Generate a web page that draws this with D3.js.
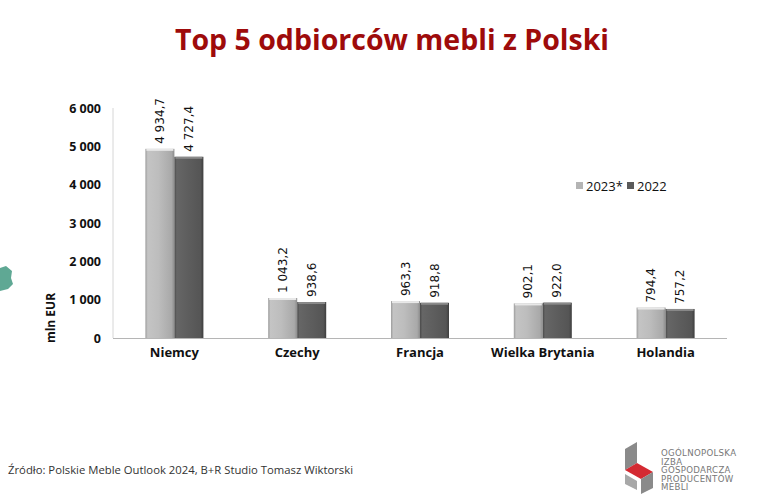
<!DOCTYPE html>
<html><head><meta charset="utf-8">
<script src="https://cdn.jsdelivr.net/npm/d3@7"></script>
<style>body{margin:0;background:#fff;}svg{display:block;}</style>
</head><body>
<svg id="c" width="760" height="504"></svg>
<script>
const categories = ["Niemcy","Czechy","Francja","Wielka Brytania","Holandia"];
const seriesNames = ["2023*","2022"];
const values2023 = [4934.7,1043.2,963.3,902.1,794.4];
const values2022 = [4727.4,938.6,918.8,922.0,757.2];
const labels2023 = ["4 934,7","1 043,2","963,3","902,1","794,4"];
const labels2022 = ["4 727,4","938,6","918,8","922,0","757,2"];
const yTicks = [0,1000,2000,3000,4000,5000,6000];
const yTickLabels = ["0","1 000","2 000","3 000","4 000","5 000","6 000"];

const svg = d3.select("#c");
const defs = svg.append("defs");
function grad(id, stops){
  const g = defs.append("linearGradient").attr("id",id).attr("x1","0").attr("x2","1").attr("y1","0").attr("y2","0");
  stops.forEach(s=>g.append("stop").attr("offset",s[0]).attr("stop-color",s[1]));
}
grad("g23",[[0,"#9c9c9c"],[0.08,"#c4c4c4"],[0.45,"#bdbdbd"],[0.9,"#a9a9a9"],[1,"#8c8c8c"]]);
grad("g22",[[0,"#4a4a4a"],[0.08,"#666"],[0.45,"#5e5e5e"],[0.9,"#555"],[1,"#3e3e3e"]]);

// title
svg.append("text").attr("x",392).attr("y",50).attr("text-anchor","middle")
  .attr("font-family","Open Sans").attr("font-weight","bold").attr("font-size",28.5)
  .attr("fill","#9e0b0b").text("Top 5 odbiorców mebli z Polski");

const x0 = d3.scaleBand().domain(categories).range([113,727]);
const y = d3.scaleLinear().domain([0,6000]).range([338,108]);
const x1 = d3.scaleBand().domain(seriesNames).range([0,58]);

// axis line
svg.append("line").attr("x1",113).attr("x2",113).attr("y1",y(6000)).attr("y2",y(0)).attr("stroke","#d6d6d6");
svg.append("line").attr("x1",113).attr("x2",727).attr("y1",y(0)+0.5).attr("y2",y(0)+0.5).attr("stroke","#b5b5b5");

// y tick labels
const yAxis = d3.axisLeft(y).tickValues(yTicks).tickFormat((d,i)=>yTickLabels[i]).tickSize(0).tickPadding(12);
const ya = svg.append("g").attr("transform","translate(113,0)").call(yAxis);
ya.select(".domain").remove();
ya.selectAll("text").attr("font-family","Open Sans").attr("font-weight","bold").attr("font-size",12.5).attr("fill","#111");

// x labels
const xAxis = d3.axisBottom(x0).tickSize(0).tickPadding(10);
const xa = svg.append("g").attr("transform",`translate(0,${y(0)})`).call(xAxis);
xa.select(".domain").remove();
xa.selectAll("text").attr("font-family","Open Sans").attr("font-weight","bold").attr("font-size",13).attr("fill","#111");

// y label
svg.append("text").attr("transform","translate(55,318) rotate(-90)").attr("text-anchor","middle")
  .attr("font-family","Open Sans").attr("font-weight","bold").attr("font-size",12).attr("fill","#111").text("mln EUR");

const series = [
  {name:"2023*", vals:values2023, labs:labels2023, fill:"url(#g23)", top:"#e8e8e8"},
  {name:"2022", vals:values2022, labs:labels2022, fill:"url(#g22)", top:"#8a8a8a"}
];
series.forEach(s=>{
  const g = svg.append("g");
  categories.forEach((c,i)=>{
    const bx = x0(c) + x0.bandwidth()/2 - 29 + x1(s.name);
    const bw = x1.bandwidth();
    const by = y(s.vals[i]);
    g.append("rect").attr("x",bx).attr("y",by).attr("width",bw).attr("height",y(0)-by).attr("fill",s.fill);
    g.append("rect").attr("x",bx+1).attr("y",by).attr("width",bw-2).attr("height",2).attr("fill",s.top);
    g.append("text").attr("transform",`translate(${bx+bw/2},${by-5}) rotate(-90)`)
      .attr("dominant-baseline","central").attr("font-family","DejaVu Sans").attr("font-size",12)
      .attr("fill","#111").text(s.labs[i]);
  });
});

// legend
const lg = svg.append("g");
[["2023*",576,"#b4b4b4"],["2022",627,"#5a5a5a"]].forEach(d=>{
  lg.append("rect").attr("x",d[1]).attr("y",182).attr("width",7).attr("height",7).attr("fill",d[2]);
  lg.append("text").attr("x",d[1]+10).attr("y",191).attr("font-family","Open Sans").attr("font-weight",500).attr("font-size",13).attr("fill","#111").text(d[0]);
});

// teal decoration at left edge
svg.append("path").attr("d","M0,268 L6,266 L12,271 L11,278 L13,284 L8,289 L0,291 Z").attr("fill","#5fa894");

// source
svg.append("text").attr("x",8).attr("y",474).attr("font-family","Open Sans").attr("font-size",11.3).attr("fill","#333")
  .text("Źródło: Polskie Meble Outlook 2024, B+R Studio Tomasz Wiktorski");

// logo
const lo = svg.append("g");
lo.append("path").attr("d","M625,449 L637,442 L637,463 L625,470 Z").attr("fill","#8a8a8a");
lo.append("path").attr("d","M625,470 L637,463 L653,472 L641,479 Z").attr("fill","#d42a32");
lo.append("path").attr("d","M641,479 L653,472 L653,488 L641,494 Z").attr("fill","#8a8a8a");
lo.append("path").attr("d","M625,474 L637,481 L637,490 L625,484 Z").attr("fill","#a8a8a8");
["OGÓLNOPOLSKA","IZBA","GOSPODARCZA","PRODUCENTÓW","MEBLI"].forEach((t,i)=>{
  lo.append("text").attr("x",661).attr("y",456+i*8.6).attr("font-family","DejaVu Sans").attr("font-size",8.6)
    .attr("letter-spacing",0.3).attr("fill","#777").text(t);
});
</script>
</body></html>
